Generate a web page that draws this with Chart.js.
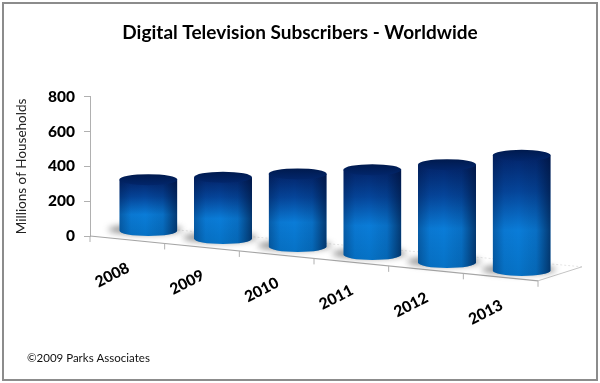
<!DOCTYPE html>
<html><head><meta charset="utf-8">
<script src="https://cdn.jsdelivr.net/npm/chart.js@4"></script>
<style>html,body{margin:0;padding:0;background:#fff}#w{position:relative;width:600px;height:383px}canvas{display:block}</style>
</head><body><div id="w"><canvas id="c" width="600" height="383"></canvas></div>
<script>
const years = ['2008','2009','2010','2011','2012','2013'];
const subscribers = [295, 355, 420, 490, 565, 665];
const yTicks = [0, 200, 400, 600, 800];
const titleText = 'Digital Television Subscribers - Worldwide';
const yTitle = 'Millions of Households';
const credit = '©2009 Parks Associates';
const FONT = 'Lato, Carlito, sans-serif';
const SLOPE = 0.1;

const cylinders = {
  id: 'cylinders',
  beforeDatasetsDraw(chart) {
    const {ctx, scales: {x, y}} = chart;
    const L = x.left, R = x.right, B = y.bottom;
    const fy = px => B + SLOPE * (px - L);
    ctx.save();
    ctx.strokeStyle = '#e4e4e4'; ctx.lineWidth = 1; ctx.setLineDash([2, 2]);
    ctx.beginPath(); ctx.moveTo(L + 44, B - 10); ctx.lineTo(R + 44, fy(R) - 14); ctx.stroke();
    ctx.setLineDash([]);
    ctx.strokeStyle = '#c4c4c4';
    ctx.beginPath(); ctx.moveTo(R, fy(R)); ctx.lineTo(R + 44, fy(R) - 14); ctx.stroke();
    ctx.strokeStyle = '#a6a6a6'; ctx.lineWidth = 1.2;
    ctx.beginPath(); ctx.moveTo(L, B); ctx.lineTo(R, fy(R)); ctx.stroke();
    const n = years.length, step = (R - L) / n;
    ctx.strokeStyle = '#b0b0b0'; ctx.lineWidth = 1;
    for (let i = 0; i <= n; i++) {
      const px = L + step * i;
      ctx.beginPath(); ctx.moveTo(px, fy(px)); ctx.lineTo(px, fy(px) + 6); ctx.stroke();
    }
    ctx.fillStyle = '#000'; ctx.font = '900 15.5px ' + FONT; ctx.textAlign = 'center'; ctx.textBaseline = 'middle';
    years.forEach((t, i) => {
      const cx = x.getPixelForTick(i) - 15;
      const cy = 275 + SLOPE * (cx - 112);
      ctx.save(); ctx.translate(cx, cy); ctx.rotate(-27 * Math.PI / 180); ctx.fillText(t, 0, 0); ctx.restore();
    });
    ctx.font = '11.5px ' + FONT; ctx.textAlign = 'left'; ctx.fillStyle = '#111';
    ctx.fillText(credit, 27, 358);
    ctx.restore();
  },
  afterDatasetsDraw(chart) {
    const {ctx} = chart;
    const meta = chart.getDatasetMeta(0);
    meta.data.forEach(el => {
      const w = el.width, cx = el.x + 21, rx = w / 2, ry = 5.5;
      const dy = 0.107 * (cx - 148) - 5;
      const top = el.y + dy, bot = el.base + dy, l = cx - rx, r = cx + rx;
      ctx.save();
      ctx.save();
      ctx.filter = 'blur(3px)';
      ctx.fillStyle = 'rgba(70,70,70,0.6)';
      ctx.beginPath(); ctx.ellipse(cx - 3, bot - 1, rx + 8, ry - 0.5, 0, 0, Math.PI * 2); ctx.fill();
      ctx.restore();
      ctx.save();
      ctx.beginPath(); ctx.moveTo(l, top); ctx.lineTo(l, bot);
      ctx.ellipse(cx, bot, rx, ry, 0, Math.PI, 0, true);
      ctx.lineTo(r, top); ctx.closePath(); ctx.clip();
      const g = ctx.createLinearGradient(0, top, 0, bot + ry);
      g.addColorStop(0, '#03246a'); g.addColorStop(0.3, '#05459a'); g.addColorStop(0.62, '#0a7cd8'); g.addColorStop(1, '#0672c6');
      ctx.fillStyle = g; ctx.fillRect(l, top, w, bot - top + ry + 1);
      const h = ctx.createLinearGradient(l, 0, r, 0);
      h.addColorStop(0, 'rgba(0,15,50,0.3)'); h.addColorStop(0.2, 'rgba(0,15,50,0.04)'); h.addColorStop(0.45, 'rgba(0,0,0,0)');
      h.addColorStop(0.75, 'rgba(0,15,50,0.12)'); h.addColorStop(1, 'rgba(0,15,50,0.62)');
      ctx.fillStyle = h; ctx.fillRect(l, top, w, bot - top + ry + 1);
      ctx.restore();
      const t = ctx.createLinearGradient(0, top - ry, 0, top + ry);
      t.addColorStop(0, '#001a4e'); t.addColorStop(1, '#02266b');
      ctx.fillStyle = t;
      ctx.beginPath(); ctx.ellipse(cx, top, rx, ry, 0, 0, Math.PI * 2); ctx.fill();
      ctx.restore();
    });
  }
};

const frame = {
  id: 'frame',
  afterDraw(chart) {
    const {ctx} = chart;
    ctx.save(); ctx.strokeStyle = '#8c8c8c'; ctx.lineWidth = 2;
    ctx.strokeRect(3, 3, 594, 377);
    ctx.restore();
  }
};

new Chart(document.getElementById('c'), {
  type: 'bar',
  data: { labels: years, datasets: [{ label: 'Digital Television Subscribers', data: subscribers, backgroundColor: 'rgba(0,0,0,0)', borderWidth: 0, barPercentage: 0.777, categoryPercentage: 1 }] },
  plugins: [cylinders, frame],
  options: {
    responsive: false, animation: false,
    layout: { padding: 0 },
    plugins: {
      legend: { display: false }, tooltip: { enabled: false },
      title: { display: true, text: titleText, color: '#000', font: { family: FONT, size: 19, weight: 'bold' }, padding: { top: 21, bottom: 53 } }
    },
    scales: {
      x: { grid: { display: false }, border: { display: false }, ticks: { display: false },
           afterFit(s) { s.height = 147; } },
      y: { min: 0, max: 800, afterBuildTicks(s) { s.ticks = yTicks.map(v => ({ value: v })); },
           afterFit(s) { s.width = 90; },
           grid: { display: true, drawOnChartArea: false, drawTicks: true, tickLength: 6, color: '#b0b0b0' },
           border: { display: true, color: '#b0b0b0' },
           ticks: { color: '#000', padding: 9, font: { family: FONT, size: 15.5, weight: '900' } },
           title: { display: true, text: yTitle, color: '#222', font: { family: FONT, size: 13.5 }, padding: { top: 14, bottom: 0 } } },
      rightGutter: { type: 'linear', axis: 'y', position: 'right', display: true,
           grid: { display: false }, border: { display: false }, ticks: { display: false },
           afterFit(s) { s.width = 62; } }
    }
  }
});
</script></body></html>
